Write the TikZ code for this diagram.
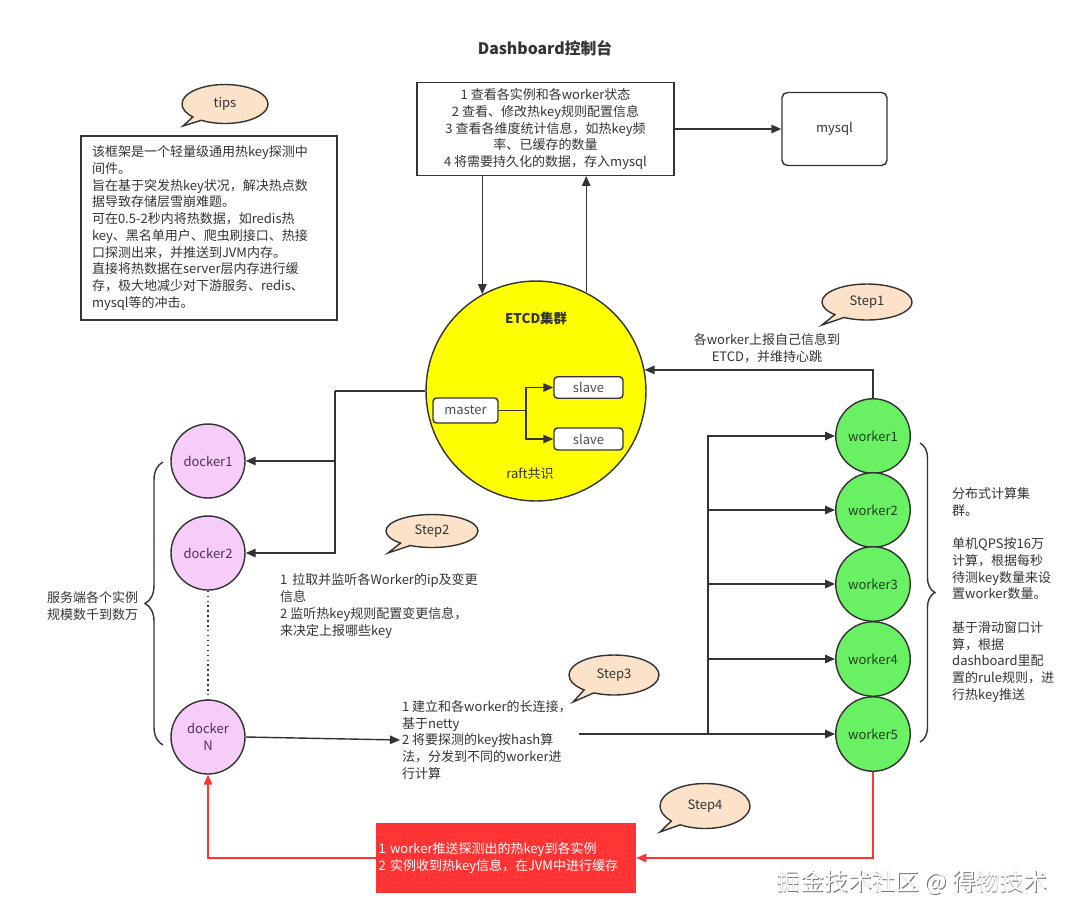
\documentclass[tikz,border=0pt]{standalone}
\usepackage{fontspec}
\setmainfont{Noto Sans CJK SC}
\usetikzlibrary{arrows.meta}
\usetikzlibrary{shapes.callouts}
\usetikzlibrary{decorations.pathreplacing}

\definecolor{linegray}{HTML}{333333}
\definecolor{textgray}{HTML}{333333}
\definecolor{etcdyellow}{HTML}{FFFF00}
\definecolor{dockerpink}{HTML}{F6CCF9}
\definecolor{dockertext}{HTML}{4A3350}
\definecolor{workergreen}{HTML}{69F163}
\definecolor{workertext}{HTML}{1E401E}
\definecolor{bubblefill}{HTML}{FCE2C8}
\definecolor{alertred}{HTML}{FF3434}

\tikzset{
  every node/.style={font=\fontsize{7.4}{9.5}\selectfont, text=textgray},
  flow/.style={draw=linegray, line width=0.8pt, -{Triangle[length=0.2cm,width=0.17cm]}},
  redflow/.style={draw=alertred, line width=0.8pt, -{Triangle[length=0.2cm,width=0.17cm]}},
  plainline/.style={draw=linegray, line width=0.8pt},
  infobox/.style={draw=linegray, line width=0.8pt, fill=white, rectangle},
  rolebox/.style={draw=linegray, line width=0.8pt, fill=white, rounded corners=2pt, inner sep=0pt, text=black!70},
  dockernode/.style={circle, draw=linegray, line width=0.8pt, fill=dockerpink, minimum size=1.48cm, inner sep=0pt, align=center, text=dockertext},
  workernode/.style={circle, draw=linegray, line width=0.8pt, fill=workergreen, minimum size=1.49cm, inner sep=0pt, text=workertext},
  bubble/.style={ellipse callout, draw=linegray, line width=0.8pt, fill=bubblefill, inner sep=0pt},
  sidebrace/.style={draw=linegray, line width=0.8pt, decorate, decoration={brace, amplitude=0.36cm}},
}

\begin{document}
\begin{tikzpicture}[x=0.02cm, y=-0.02cm]
\fill[white] (0,0) rectangle (1080,921);
\useasboundingbox (0,0) rectangle (1080,921);

% dashboard
\node[font=\fontsize{9}{11}\selectfont\bfseries] (dashtitle) at (545,48) {Dashboard控制台};
\node[infobox, minimum width=5.14cm, minimum height=1.84cm, align=center] (dash) at (545.5,129)
  {1 查看各实例和各worker状态\\2 查看、修改热key规则配置信息\\3 查看各维度统计信息，如热key频\\率、已缓存的数量\\4 将需要持久化的数据，存入mysql};
\node[infobox, rounded corners=3pt, minimum width=2.1cm, minimum height=1.46cm] (mysql) at (834.5,129) {mysql};
\draw[flow] (dash.east) -- (mysql.west);

% tips
\node[bubble, minimum width=1.72cm, minimum height=0.78cm, callout absolute pointer={(183,126)}] (tips) at (225,104) {tips};
\node[infobox, line width=1.2pt, text width=4.68cm, minimum height=3.68cm, inner xsep=0.22cm, align=left] (tipsbox) at (209,228)
  {该框架是一个轻量级通用热key探测中\\间件。\\旨在基于突发热key状况，解决热点数\\据导致存储层雪崩难题。\\可在0.5-2秒内将热数据，如redis热\\key、黑名单用户、爬虫刷接口、热接\\口探测出来，并推送到JVM内存。\\直接将热数据在server层内存进行缓\\存，极大地减少对下游服务、redis、\\mysql等的冲击。};

% etcd cluster
\node[circle, draw=linegray, line width=0.8pt, fill=etcdyellow, minimum size=4.4cm, inner sep=0pt] (etcd) at (536,391) {};
\node[font=\fontsize{7.6}{9.5}\selectfont\bfseries] (etcdtitle) at (536,318) {ETCD集群};
\node (raft) at (530,474) {raft共识};
\node[rolebox, minimum width=1.3cm, minimum height=0.5cm] (master) at (465.5,410.5) {master};
\node[rolebox, minimum width=1.38cm, minimum height=0.43cm] (slave1) at (588.5,387.5) {slave};
\node[rolebox, minimum width=1.38cm, minimum height=0.44cm] (slave2) at (588.5,439) {slave};
\coordinate (msplit) at (526,410.5);
\draw[plainline] (master.east) -- (msplit);
\draw[flow] (msplit) |- (slave1.west);
\draw[flow] (msplit) |- (slave2.west);

\draw[flow] (etcd.119 |- dash.south) -- (etcd.119);
\draw[flow] (etcd.63) -- (etcd.63 |- dash.south);

% service instances
\node[dockernode] (docker1) at (208,461) {docker1};
\node[dockernode] (docker2) at (208,553) {docker2};
\node[dockernode] (dockerN) at (208,737) {docker\\N};
\draw[linegray, line width=0.8pt, dotted] (docker2.south) -- (dockerN.north);
\coordinate (dsplit) at (335,391);
\draw[plainline] (etcd.west) -- (dsplit);
\draw[flow] (dsplit) |- (docker1.east);
\draw[flow] (dsplit) |- (docker2.east);

\draw[sidebrace] (163,745) -- (163,462);
\node[anchor=west, align=left] (dockernote) at (41,606) {服务端各个实例\\规模数千到数万};

\node[bubble, minimum width=1.84cm, minimum height=0.66cm, callout absolute pointer={(388,553)}] (step2) at (432,531) {Step2};
\node[anchor=west, align=left] (step2text) at (274,606)
  {1\,\ 拉取并监听各Worker的ip及变更\\信息\\2 监听热key规则配置变更信息，\\来决定上报哪些key};

% workers
\node[workernode] (worker1) at (873,436) {worker1};
\node[workernode] (worker2) at (873,510) {worker2};
\node[workernode] (worker3) at (873,584) {worker3};
\node[workernode] (worker4) at (873,659) {worker4};
\node[workernode] (worker5) at (873,734) {worker5};

\draw[flow] (worker1.north) |- (etcd.11.5);
\node[bubble, minimum width=1.8cm, minimum height=0.72cm, callout absolute pointer={(822,325)}] (step1) at (867,302) {Step1};
\node[align=center] (step1text) at (767,348) {各worker上报自己信息到\\ETCD，并维持心跳};

\node[bubble, minimum width=1.8cm, minimum height=0.8cm, callout absolute pointer={(573,702)}] (step3) at (614,675) {Step3};
\node[anchor=west, align=left, inner xsep=1pt] (step3text) at (400,740)
  {1 建立和各worker的长连接，\\基于netty\\2 将要探测的key按hash算\\法，分发到不同的worker进\\行计算};
\draw[flow] (dockerN.east) -- (step3text.west);
\coordinate (hashout) at (579,734);
\coordinate (wsplit) at (708,734);
\draw[plainline] (hashout) -- (wsplit);
\draw[flow] (wsplit) |- (worker1.west);
\draw[flow] (wsplit) |- (worker2.west);
\draw[flow] (wsplit) |- (worker3.west);
\draw[flow] (wsplit) |- (worker4.west);
\draw[flow] (wsplit) -- (worker5.west);

\draw[sidebrace, decoration={amplitude=0.3cm}] (920,443) -- (920,742);
\node[anchor=west, align=left] (workernote) at (946,595)
  {分布式计算集\\群。\\[9.5pt]单机QPS按16万\\计算，根据每秒\\待测key数量来设\\置worker数量。\\[9.5pt]基于滑动窗口计\\算，根据\\dashboard里配\\置的rule规则，进\\行热key推送};

% push back
\node[bubble, minimum width=1.8cm, minimum height=0.9cm, callout absolute pointer={(660,832)}] (step4) at (705,806) {Step4};
\node[rectangle, fill=alertred, minimum width=5.2cm, minimum height=1.4cm, text width=5.1cm, inner xsep=0.05cm, align=left, text=white] (pushbox) at (506,858)
  {1 worker推送探测出的热key到各实例\\2 实例收到热key信息，在JVM中进行缓存};
\draw[redflow] (worker5.south) |- (pushbox.east);
\draw[redflow] (pushbox.west) -| (dockerN.south);

% watermark
\node[font=\fontsize{13.5}{15}\selectfont, text=black!55] (markshade) at (913,883) {掘金技术社区 @ 得物技术};
\node[font=\fontsize{13.5}{15}\selectfont, text=white] (mark) at (912.4,882.4) {掘金技术社区 @ 得物技术};
\end{tikzpicture}
\end{document}
